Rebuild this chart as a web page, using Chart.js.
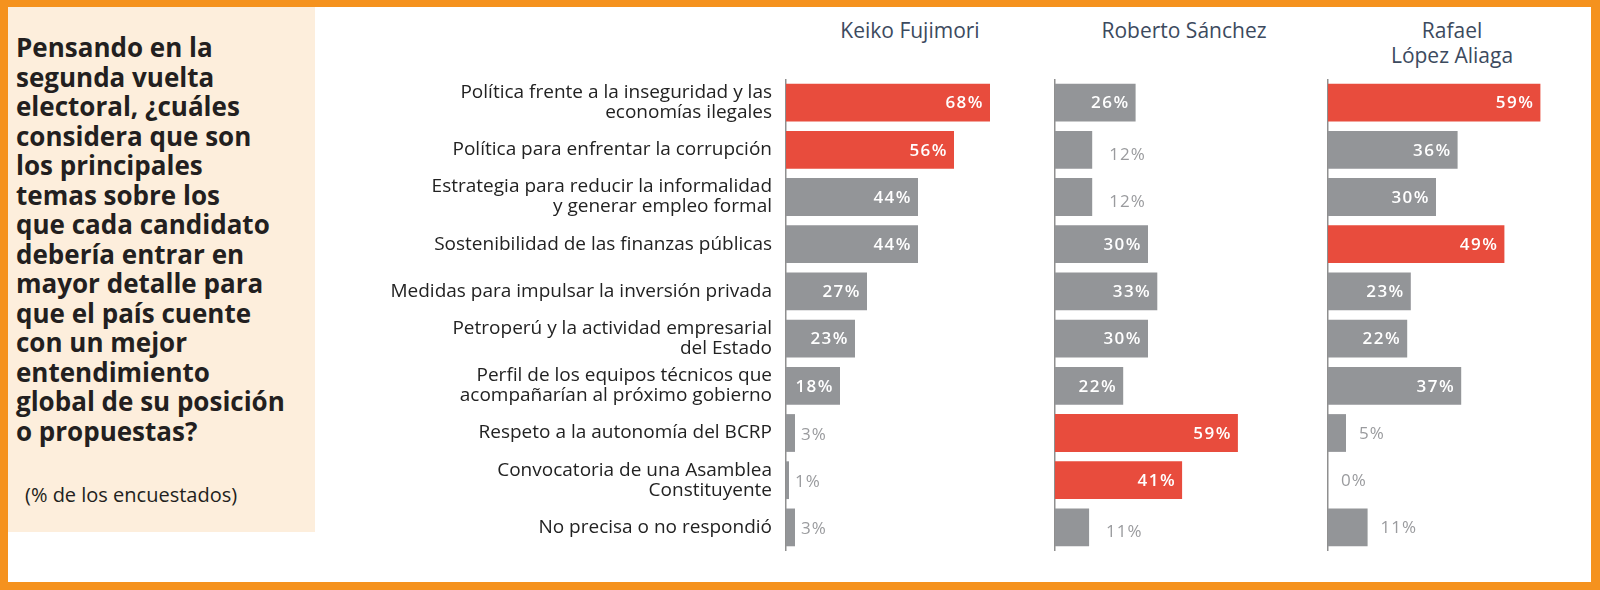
<!DOCTYPE html>
<html>
<head>
<meta charset="utf-8">
<script src="https://cdn.jsdelivr.net/npm/chart.js"></script>
<style>
  body { margin: 0; width: 1600px; height: 590px; overflow: hidden; background: #fff; font-family: "Open Sans", sans-serif; }
  #frame { position: absolute; left: 0; top: 0; width: 1600px; height: 590px; box-sizing: border-box;
           border: solid #F5921E; border-width: 7px 9px 8px 8px; }
  #side { position: absolute; left: 8px; top: 7px; width: 307px; height: 525px; background: #FDEEDC; }
  #question { position: absolute; left: 16px; top: 33px; font-weight: 700; font-size: 26px; line-height: 29.5px;
              color: #231f20; white-space: nowrap; }
  #note { position: absolute; left: 25px; top: 485px; font-size: 20px; line-height: 20px; color: #231f20; white-space: nowrap; }
  .head { position: absolute; top: 18px; width: 240px; text-align: center; font-size: 21px; line-height: 25px;
          color: #3c4a5e; font-weight: 500; }
  canvas { position: absolute; top: 79px; }
</style>
</head>
<body>
<div id="frame"></div>
<div id="side"></div>
<div id="question">Pensando en la<br>segunda vuelta<br>electoral, ¿cuáles<br>considera que son<br>los principales<br>temas sobre los<br>que cada candidato<br>debería entrar en<br>mayor detalle para<br>que el país cuente<br>con un mejor<br>entendimiento<br>global de su posición<br>o propuestas?</div>
<div id="note">(% de los encuestados)</div>

<div class="head" id="h1" style="left:790px"></div>
<div class="head" id="h2" style="left:1064px"></div>
<div class="head" id="h3" style="left:1332px"></div>

<canvas id="c1" width="646" height="472" style="left:380px"></canvas>
<canvas id="c2" width="250" height="472" style="left:1053px"></canvas>
<canvas id="c3" width="254" height="472" style="left:1326px"></canvas>

<script>
var categories = [
  ["Política frente a la inseguridad y las", "economías ilegales"],
  "Política para enfrentar la corrupción",
  ["Estrategia para reducir la informalidad", "y generar empleo formal"],
  "Sostenibilidad de las finanzas públicas",
  "Medidas para impulsar la inversión privada",
  ["Petroperú y la actividad empresarial", "del Estado"],
  ["Perfil de los equipos técnicos que", "acompañarían al próximo gobierno"],
  "Respeto a la autonomía del BCRP",
  ["Convocatoria de una Asamblea", "Constituyente"],
  "No precisa o no respondió"
];
var candidates = [["Keiko Fujimori"], ["Roberto Sánchez"], ["Rafael", "López Aliaga"]];
var keiko   = [68, 56, 44, 44, 27, 23, 18, 3, 1, 3];
var roberto = [26, 12, 12, 30, 33, 30, 22, 59, 41, 11];
var rafael  = [59, 36, 30, 49, 23, 22, 37, 5, 0, 11];

var RED = "#E84C3D";
var GRAY = "#939598";

// the two largest answers of each candidate are red
function barColors(values) {
  var top = values.slice().sort(function (a, b) { return b - a; }).slice(0, 2);
  return values.map(function (v) { return top.indexOf(v) >= 0 ? RED : GRAY; });
}

var valueLabels = {
  id: "valueLabels",
  afterDatasetsDraw: function (chart, args, opts) {
    var ctx = chart.ctx;
    var vals = chart.data.datasets[0].data;
    ctx.save();
    ctx.textBaseline = "middle";
    chart.getDatasetMeta(0).data.forEach(function (bar, i) {
      var txt = vals[i] + "%";
      if (vals[i] >= 15) {
        ctx.font = '600 17px "Open Sans"';
        ctx.letterSpacing = "1.5px";
        ctx.fillStyle = "#ffffff";
        ctx.textAlign = "right";
        ctx.fillText(txt, bar.x - 6, bar.y + 1);
      } else {
        ctx.font = '17px "Open Sans"';
        ctx.letterSpacing = "1px";
        ctx.fillStyle = "#9a9b9e";
        ctx.textAlign = "left";
        ctx.fillText(txt, bar.x + opts.gap, bar.y + opts.dy);
      }
    });
    ctx.restore();
  }
};

function makeChart(id, values, xMax, withLabels, yWidth, gap, dy) {
  return new Chart(id, {
    type: "bar",
    data: {
      labels: categories,
      datasets: [{
        data: values,
        backgroundColor: barColors(values),
        barPercentage: 0.8,
        categoryPercentage: 1
      }]
    },
    options: {
      indexAxis: "y",
      responsive: false,
      animation: false,
      layout: { padding: 0 },
      plugins: {
        legend: { display: false },
        tooltip: { enabled: false },
        valueLabels: { gap: gap, dy: dy }
      },
      scales: {
        x: { display: false, min: 0, max: xMax },
        y: {
          grid: { display: false, drawTicks: false },
          border: { display: true, color: "#8f8f8f", width: 1.5 },
          ticks: {
            display: withLabels,
            color: "#222222",
            padding: 14,
            font: { family: '"Open Sans"', size: 19, lineHeight: 1.05 }
          },
          afterFit: function (s) { s.width = yWidth; s.paddingTop = 0; s.paddingBottom = 0; }
        }
      }
    },
    plugins: [valueLabels]
  });
}

document.getElementById("h1").innerHTML = candidates[0].join("<br>");
document.getElementById("h2").innerHTML = candidates[1].join("<br>");
document.getElementById("h3").innerHTML = candidates[2].join("<br>");

makeChart("c1", keiko, 80, true, 406, 6, 2);
makeChart("c2", roberto, 80, false, 2, 17, 5);
makeChart("c3", rafael, 70, false, 2, 13, 1);
</script>
</body>
</html>
